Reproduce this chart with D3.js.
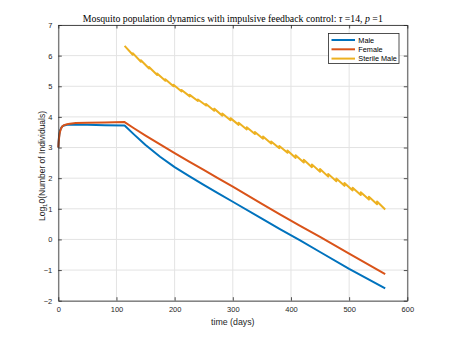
<!DOCTYPE html>
<html><head><meta charset="utf-8">
<script src="https://cdn.jsdelivr.net/npm/d3@7"></script>
<style>body{margin:0;background:#fff}svg{display:block}</style>
</head><body>
<script>
// ---- Data ----
const maleT   = [0,0.5,1,2,3,4,5,7,10,15,20,30,50,80,114,130,150,175,200,225,250,275,300,350,381,415,450,500,562];
const maleV   = [3.0,3.18,3.3,3.45,3.55,3.6,3.64,3.69,3.72,3.74,3.745,3.745,3.74,3.73,3.72,3.43,3.08,2.70,2.36,2.07,1.78,1.50,1.23,0.68,0.34,-0.02,-0.41,-0.96,-1.6];
const femaleT = [0,0.5,1,2,3,4,5,7,10,15,20,30,50,80,114,130,150,175,200,225,250,275,300,350,381,415,450,500,562];
const femaleV = [3.0,3.15,3.25,3.42,3.52,3.58,3.63,3.69,3.73,3.76,3.78,3.80,3.81,3.82,3.83,3.63,3.39,3.10,2.82,2.54,2.27,1.99,1.72,1.16,0.82,0.45,0.08,-0.46,-1.13];
// sterile male: release every 14 days (pre-release value, post-release value)
const sterileT = [114,128,128,142,142,156,156,170,170,184,184,198,198,212,212,226,226,240,240,254,254,268,268,282,282,296,296,310,310,324,324,338,338,352,352,366,366,380,380,394,394,408,408,422,422,436,436,450,450,464,464,478,478,492,492,506,506,520,520,534,534,548,548,562];
const sterileV = [6.32,6.03,6.08,5.80,5.85,5.58,5.63,5.37,5.42,5.18,5.23,5.00,5.05,4.83,4.88,4.67,4.72,4.52,4.57,4.37,4.42,4.20,4.27,4.04,4.11,3.89,3.96,3.74,3.81,3.59,3.66,3.44,3.51,3.29,3.36,3.13,3.20,2.98,3.05,2.83,2.90,2.66,2.75,2.51,2.60,2.36,2.45,2.21,2.30,2.05,2.14,1.90,1.99,1.75,1.84,1.60,1.69,1.45,1.54,1.30,1.39,1.15,1.24,0.98];
const xTicks = [0,100,200,300,400,500,600];
const yTicks = [-2,-1,0,1,2,3,4,5,6,7];
const seriesNames = ["Male","Female","Sterile Male"];
const colors = ["#0072BD","#D95319","#EDB120"];

// ---- Layout ----
const W=450,H=338;
const L=58.3,R=407.3,T=25,B=300.7;
const svg=d3.select("body").append("svg").attr("width",W).attr("height",H);
const x=d3.scaleLinear().domain([0,600]).range([L,R]);
const y=d3.scaleLinear().domain([-2,7]).range([B,T]);
const axisCol="#262626";
const font="'Liberation Sans',Arial,Helvetica,sans-serif";

// grid
const g=svg.append("g");
g.selectAll(".gx").data(xTicks).enter().append("line")
 .attr("x1",d=>x(d)).attr("x2",d=>x(d)).attr("y1",T).attr("y2",B)
 .attr("stroke","#e3e3e3").attr("stroke-width",1);
g.selectAll(".gy").data(yTicks).enter().append("line")
 .attr("x1",L).attr("x2",R).attr("y1",d=>y(d)).attr("y2",d=>y(d))
 .attr("stroke","#e3e3e3").attr("stroke-width",1);

// lines
const line=d3.line().x(d=>x(d[0])).y(d=>y(d[1]));
const data=[
  maleT.map((t,i)=>[t,maleV[i]]),
  femaleT.map((t,i)=>[t,femaleV[i]]),
  sterileT.map((t,i)=>[t,sterileV[i]])
];
data.forEach((dd,i)=>{
  svg.append("path").attr("d",line(dd)).attr("fill","none")
   .attr("stroke",colors[i]).attr("stroke-width",2).attr("stroke-linejoin","round");
});

// axes (MATLAB style, ticks inside)
const tickLen=3.5;
const xb=d3.axisBottom(x).tickValues(xTicks).tickSizeInner(-tickLen).tickSizeOuter(0).tickPadding(6);
const xt=d3.axisTop(x).tickValues(xTicks).tickSizeInner(-tickLen).tickSizeOuter(0).tickFormat("");
const yl=d3.axisLeft(y).tickValues(yTicks).tickSizeInner(-tickLen).tickSizeOuter(0).tickPadding(6);
const yr=d3.axisRight(y).tickValues(yTicks).tickSizeInner(-tickLen).tickSizeOuter(0).tickFormat("");
function styleAx(s){s.selectAll("path").attr("stroke",axisCol).attr("stroke-width",0.8);
 s.selectAll("line").attr("stroke",axisCol).attr("stroke-width",0.8);
 s.selectAll("text").attr("fill",axisCol).attr("font-family",font).attr("font-size",7.5);}
styleAx(svg.append("g").attr("transform",`translate(0,${B})`).call(xb));
styleAx(svg.append("g").attr("transform",`translate(0,${T})`).call(xt));
styleAx(svg.append("g").attr("transform",`translate(${L},0)`).call(yl));
styleAx(svg.append("g").attr("transform",`translate(${R},0)`).call(yr));

// labels
svg.append("text").attr("x",(L+R)/2).attr("y",324.5).attr("text-anchor","middle")
 .attr("font-family",font).attr("font-size",8.8).attr("fill",axisCol).text("time (days)");
const yt=svg.append("text").attr("transform",`translate(44.5,166) rotate(-90)`)
 .attr("text-anchor","middle").attr("font-family",font).attr("font-size",8.5).attr("fill",axisCol);
yt.append("tspan").text("Log");
yt.append("tspan").attr("font-size",6).attr("dy",2).text("1");
yt.append("tspan").attr("dy",-2).text("0(Number of Individuals)");

// title
const tt=svg.append("text").attr("x",(L+R)/2).attr("y",22).attr("text-anchor","middle")
 .attr("font-family","'Liberation Serif','Times New Roman',serif").attr("font-size",9.8).attr("fill","#000");
tt.append("tspan").text("Mosquito population dynamics with impulsive feedback control: ");
tt.append("tspan").attr("font-style","italic").text("τ");
tt.append("tspan").text(" =14, ");
tt.append("tspan").attr("font-style","italic").text("p");
tt.append("tspan").text(" =1");

// legend
const lg=svg.append("g");
lg.append("rect").attr("x",328.5).attr("y",33.5).attr("width",70.5).attr("height",30)
 .attr("fill","#fff").attr("stroke",axisCol).attr("stroke-width",0.8);
seriesNames.forEach((n,i)=>{
  const yy=40+i*9.3;
  lg.append("line").attr("x1",331.5).attr("x2",355).attr("y1",yy).attr("y2",yy)
   .attr("stroke",colors[i]).attr("stroke-width",2);
  lg.append("text").attr("x",358.3).attr("y",yy+2.7).attr("font-family",font).attr("font-size",7.3)
   .attr("fill","#000").text(n);
});
</script>
</body></html>
